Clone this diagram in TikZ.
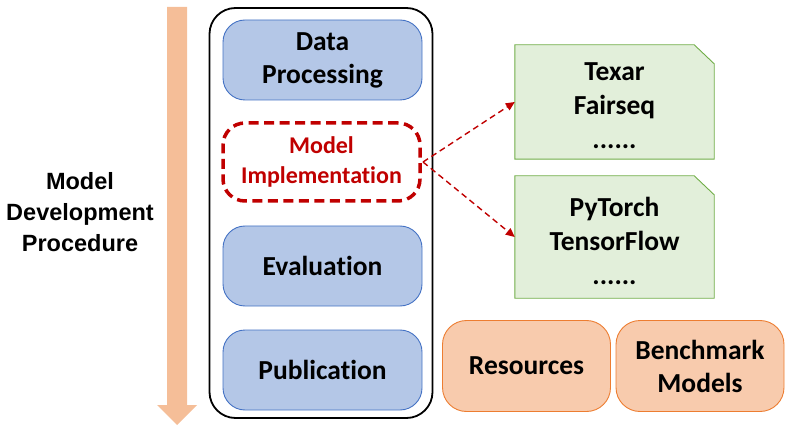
\documentclass[tikz,border=0pt]{standalone}
\usepackage{fontspec}
\setmainfont{Carlito}[Ligatures={NoCommon}]
\newfontfamily\arialfont{Liberation Sans}
\usetikzlibrary{arrows.meta}
\definecolor{bluefill}{HTML}{B4C7E7}
\definecolor{blueline}{HTML}{4472C4}
\definecolor{greenfill}{HTML}{E2EFDA}
\definecolor{greenline}{HTML}{70AD47}
\definecolor{orangefill}{HTML}{F8CBAD}
\definecolor{orangeline}{HTML}{ED7D31}
\definecolor{arrowfill}{HTML}{F5BE98}
\definecolor{darkred}{HTML}{C00000}
\tikzset{
  bigtext/.style={font=\bfseries\fontsize{27.5}{33}\selectfont, align=center},
  stagebox/.style={draw=blueline, fill=bluefill, line width=0.9pt, rounded corners=22pt,
    minimum width=199, minimum height=80, bigtext},
  implbox/.style={draw=darkred, line width=3.5pt, dash pattern=on 10pt off 5.5pt, rounded corners=22pt,
    minimum width=197, minimum height=78, text=darkred, align=center, font=\bfseries\fontsize{24}{30}\selectfont},
  libframe/.style={rectangle, minimum width=199, inner sep=0pt},
  libshape/.style={draw=greenline, fill=greenfill, line width=0.9pt},
  libtext/.style={font=\bfseries\fontsize{27.5}{34}\selectfont, align=center},
  resbox/.style={draw=orangeline, fill=orangefill, line width=0.9pt, rounded corners=24pt,
    minimum width=168, minimum height=91, bigtext},
  linkarrow/.style={draw=darkred, line width=1.4pt, dash pattern=on 6pt off 4pt, -{Triangle[length=9pt,width=8pt]}}
}
\begin{document}
\begin{tikzpicture}[x=1pt,y=-1pt]
\useasboundingbox (0,0) rectangle (789,430);
% procedure arrow
\fill[arrowfill] (167,7) -- (187,7) -- (187,405) -- (197,405) -- (177,425) -- (157,405) -- (167,405) -- cycle;
\node[font=\arialfont\bfseries\fontsize{23.5}{31}\selectfont, align=center] (proc) at (80,212) {Model\\Development\\Procedure};
% outer frame
\node[draw, line width=1.8pt, rounded corners=26pt, minimum width=223, minimum height=410] (outer) at (321,213) {};
\node[stagebox] (dp) at (322.5,60) {Data\\Processing};
\node[implbox] (mi) at (321.5,162) {Model\\Implementation};
\node[stagebox] (ev) at (322.5,266) {Evaluation};
\node[stagebox] (pub) at (322.5,370) {Publication};
% libraries
\node[libframe, minimum height=114] (lib1) at (614.5,102) {};
\filldraw[libshape] (lib1.south west) -- (lib1.north west) -- ([xshift=-20pt]lib1.north east)
  -- ([yshift=-19pt]lib1.north east) -- (lib1.south east) -- cycle;
\node[libtext] (lib1t) at (614.5,106) {Texar\\Fairseq\\......};
\node[libframe, minimum height=122] (lib2) at (614.5,237) {};
\filldraw[libshape] (lib2.south west) -- (lib2.north west) -- ([xshift=-20pt]lib2.north east)
  -- ([yshift=-19pt]lib2.north east) -- (lib2.south east) -- cycle;
\node[libtext] (lib2t) at (614.5,241) {PyTorch\\TensorFlow\\......};
\coordinate (src) at (423,162);
\draw[linkarrow] (src) -- (lib1.west);
\draw[linkarrow] (src) -- (lib2.west);
% resources
\node[resbox] (res) at (526.5,366) {Resources};
\node[resbox] (bm) at (700,366) {Benchmark\\Models};
\end{tikzpicture}
\end{document}
